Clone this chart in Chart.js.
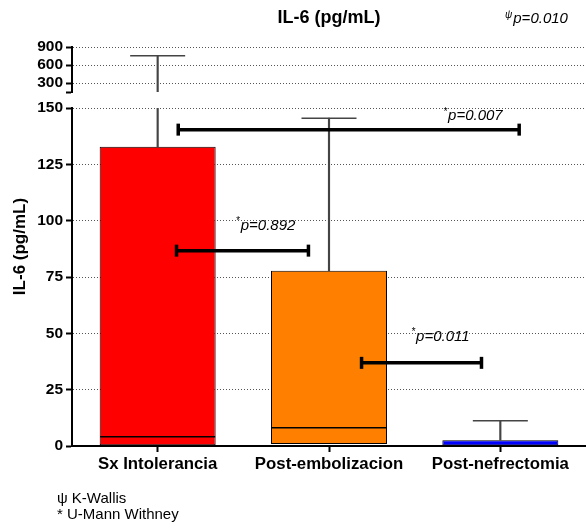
<!DOCTYPE html>
<html>
<head>
<meta charset="utf-8">
<script src="https://cdn.jsdelivr.net/npm/chart.js@4.4.1/dist/chart.umd.min.js"></script>
<style>
  html, body { margin: 0; padding: 0; background: #fff; }
  #wrap { position: relative; width: 586px; height: 529px; }
  #foot { position: absolute; left: 57px; top: 490px; font: 15px/16px "Liberation Sans", Arial, sans-serif; color: #000; }
</style>
</head>
<body>
<div id="wrap">
  <canvas id="c" width="586" height="529"></canvas>
  <div id="foot">ψ K-Wallis<br>* U-Mann Withney</div>
</div>
<script>
// ---- data ----
const categories = ['Sx Intolerancia', 'Post-embolizacion', 'Post-nefrectomia'];
const q1Values = [0.3, 0.9, 0.1];
const medianValues = [4.1, 8.1, 0.3];
const q3Values = [132.8, 77.8, 2.6];
const maxValues = [755, 145.5, 11.2];
const boxColors = ['#ff0000', '#ff8000', '#0000ff'];
const lowerTicks = [0, 25, 50, 75, 100, 125, 150];
const upperTicks = [150, 300, 600, 900];
const lowerMax = 150;
const upperMax = 900;
// significance comparisons (positions in category units)
const bracketFrom = [0.12, 0.11, 1.19];
const bracketTo = [2.11, 0.88, 1.89];
const bracketY = [140.4, 86.7, 36.9];
const pValues = ['0.007', '0.892', '0.011'];
const pLabelX = [1.84, 0.63, 1.65];
const pLabelY = [146.5, 97.8, 48.6];
const kwP = '0.010';
const titleText = 'IL-6 (pg/mL)';
const yTitleText = 'IL-6 (pg/mL)';

const FAM = '"Liberation Sans", Arial, sans-serif';

const datasets = [];
datasets.push({
  type: 'bar', data: categories.map((c, i) => [q1Values[i], q3Values[i]]),
  backgroundColor: boxColors, borderColor: '#000', borderWidth: 1, borderSkipped: false,
  grouped: false, barPercentage: 0.677, categoryPercentage: 1,
  xAxisID: 'x', yAxisID: 'y', order: 5
});
datasets.push({
  type: 'bar', data: categories.map((c, i) => [q3Values[i], Math.min(maxValues[i], lowerMax)]),
  backgroundColor: '#444', borderWidth: 0, barThickness: 1.5, grouped: false,
  xAxisID: 'x', yAxisID: 'y', order: 4
});
datasets.push({
  type: 'bar', data: categories.map((c, i) => maxValues[i] > lowerMax ? [lowerMax, maxValues[i]] : null),
  backgroundColor: '#444', borderWidth: 0, barThickness: 1.5, grouped: false,
  xAxisID: 'x', yAxisID: 'yTop', order: 4
});
const capStyle = { pointStyle: 'line', pointRadius: 27.5, pointBorderColor: '#444', pointBorderWidth: 1.5, showLine: false, order: 3 };
datasets.push(Object.assign({
  type: 'scatter', data: categories.map((c, i) => ({ x: i, y: maxValues[i] })).filter(p => p.y <= lowerMax),
  xAxisID: 'xl', yAxisID: 'y'
}, capStyle));
datasets.push(Object.assign({
  type: 'scatter', data: categories.map((c, i) => ({ x: i, y: maxValues[i] })).filter(p => p.y > lowerMax),
  xAxisID: 'xl', yAxisID: 'yTop'
}, capStyle));
datasets.push({
  type: 'scatter', data: categories.map((c, i) => ({ x: i, y: medianValues[i] })),
  pointStyle: 'line', pointRadius: 57.5, pointBorderColor: '#000', pointBorderWidth: 1.3, showLine: false,
  xAxisID: 'xl', yAxisID: 'y', order: 2
});
bracketY.forEach((y, i) => {
  datasets.push({
    type: 'line', data: [{ x: bracketFrom[i], y: y }, { x: bracketTo[i], y: y }],
    borderColor: '#000', borderWidth: 3.5, pointStyle: 'line', pointRotation: 90,
    pointRadius: 6, pointBorderWidth: 3.5, pointBorderColor: '#000',
    xAxisID: 'xl', yAxisID: 'y', order: 1
  });
});

function supText(ctx, sup, main, x, y, align) {
  ctx.font = 'italic 15px ' + FAM;
  const wm = ctx.measureText(main).width;
  ctx.font = 'italic 10px ' + FAM;
  const ws = ctx.measureText(sup).width;
  const total = wm + ws + 1;
  let x0 = align === 'left' ? x : x - total / 2;
  ctx.textAlign = 'left';
  ctx.textBaseline = 'middle';
  ctx.fillStyle = '#000';
  ctx.font = 'italic 10px ' + FAM;
  ctx.fillText(sup, x0, y - 4);
  ctx.font = 'italic 15px ' + FAM;
  ctx.fillText(main, x0 + ws + 1, y);
}

const annot = {
  id: 'annot',
  afterDraw(chart) {
    const { ctx, chartArea, scales } = chart;
    ctx.save();
    ctx.translate(20, (chartArea.top + chartArea.bottom) / 2);
    ctx.rotate(-Math.PI / 2);
    ctx.font = 'bold 17px ' + FAM;
    ctx.fillStyle = '#000';
    ctx.textAlign = 'center';
    ctx.textBaseline = 'middle';
    ctx.fillText(yTitleText, 0, 0);
    ctx.restore();
    ctx.save();
    pValues.forEach((p, i) => {
      supText(ctx, '*', 'p=' + p, scales.x.getPixelForValue(pLabelX[i]), scales.y.getPixelForValue(pLabelY[i]));
    });
    supText(ctx, 'ψ', 'p=' + kwP, chartArea.right - 81, 19, 'left');
    ctx.restore();
  }
};

const tickFont = { family: FAM, size: 15.5, weight: 'bold' };

new Chart(document.getElementById('c'), {
  type: 'bar',
  data: { labels: categories, datasets: datasets },
  plugins: [annot],
  options: {
    responsive: false,
    animation: false,
    events: [],
    layout: { padding: 0, autoPadding: false },
    plugins: {
      legend: { display: false },
      tooltip: { enabled: false },
      title: {
        display: true, text: titleText, fullSize: false, color: '#000',
        font: { family: FAM, size: 18, weight: 'bold' },
        padding: { top: 7, bottom: 18.4 }
      }
    },
    scales: {
      x: {
        type: 'category', position: 'bottom', offset: true,
        afterFit: s => { s.height = 83; },
        grid: { drawOnChartArea: false, offset: false, tickLength: 6, tickWidth: 2, tickColor: '#000' },
        border: { color: '#000', width: 2 },
        ticks: { font: { family: FAM, size: 16.8, weight: 'bold' }, color: '#000', padding: 2, maxRotation: 0, autoSkip: false }
      },
      xl: {
        type: 'linear', position: 'bottom', min: -0.5, max: 2.5, display: true, offset: false,
        afterFit: s => { s.height = 0; },
        grid: { display: false, offset: false }, border: { display: false }, ticks: { display: false }
      },
      y: {
        type: 'linear', position: 'left', stack: 'v', stackWeight: 338, min: 0, max: lowerMax,
        afterBuildTicks: s => { s.ticks = lowerTicks.map(v => ({ value: v })); },
        afterFit: s => { s.width = 72; },
        grid: { color: c => (c.tick && c.tick.value === 0) ? 'rgba(0,0,0,0)' : '#555', lineWidth: 1, tickLength: 6, tickWidth: 2, tickColor: '#000' },
        border: { color: '#000', width: 2, dash: [1, 2] },
        ticks: { font: tickFont, color: '#000', padding: 3, autoSkip: false }
      },
      gap: {
        type: 'linear', position: 'left', stack: 'v', stackWeight: 16,
        afterFit: s => { s.width = 72; },
        grid: { display: false }, border: { display: false }, ticks: { display: false }
      },
      yTop: {
        type: 'linear', position: 'left', stack: 'v', stackWeight: 45, min: lowerMax, max: upperMax,
        afterBuildTicks: s => { s.ticks = upperTicks.map(v => ({ value: v })); },
        afterFit: s => { s.width = 72; },
        grid: { color: c => (c.tick && c.tick.value === lowerMax) ? 'rgba(0,0,0,0)' : '#555', lineWidth: 1, tickLength: 6, tickWidth: 2, tickColor: '#000' },
        border: { color: '#000', width: 2, dash: [1, 2] },
        ticks: { font: tickFont, color: '#000', padding: 3, autoSkip: false, callback: v => v === lowerMax ? '' : String(v) }
      }
    }
  }
});
</script>
</body>
</html>
